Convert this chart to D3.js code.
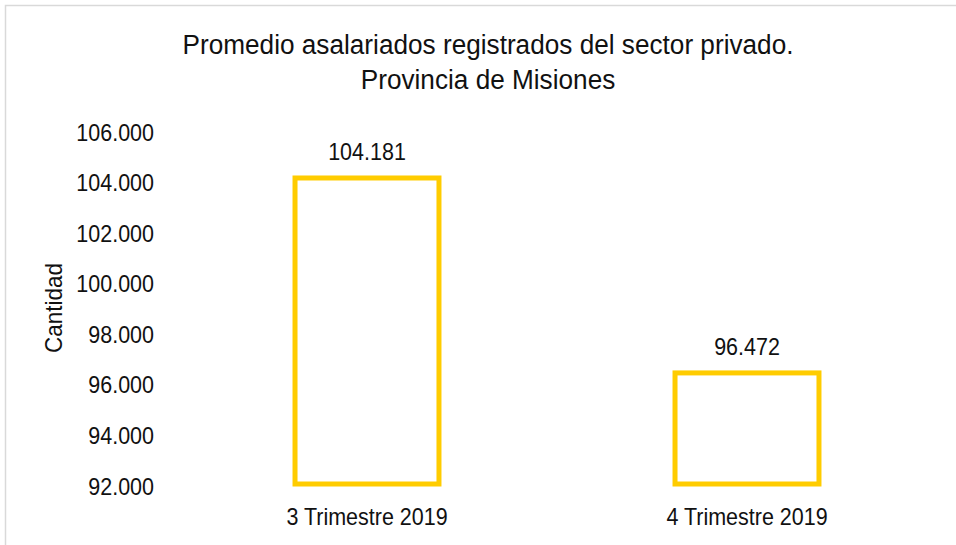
<!DOCTYPE html>
<html>
<head>
<meta charset="utf-8">
<script src="https://cdn.jsdelivr.net/npm/d3@7"></script>
<style>
  html, body { margin: 0; padding: 0; background: #fff; }
  svg { display: block; }
  text { font-family: "Liberation Sans", Arial, sans-serif; fill: #111; }
</style>
</head>
<body>
<svg id="chart" width="956" height="545"></svg>
<script>
const titleLines = ["Promedio asalariados registrados del sector privado.", "Provincia de Misiones"];
const categories = ["3 Trimestre 2019", "4 Trimestre 2019"];
const values = [104181, 96472];
const yTicks = [92000, 94000, 96000, 98000, 100000, 102000, 104000, 106000];
const yLabel = "Cantidad";

const NARROW = 0.935; // horizontal compression to emulate a condensed face
const svg = d3.select("#chart");
const fmt = v => d3.format(",")(v).replace(/,/g, ".");

svg.append("rect").attr("x", 5.5).attr("y", 5.5).attr("width", 980).attr("height", 600)
  .attr("fill", "#fff").attr("stroke", "#d9d9d9").attr("stroke-width", 1.5);

const x = d3.scaleBand().domain(categories).range([177, 937]).paddingInner(0.608).paddingOuter(0.304);
const y = d3.scaleLinear().domain([92000, 106000]).range([486, 132]);

// title
const titleG = svg.append("g").attr("transform", "translate(488,0)");
titleLines.forEach((t, i) => {
  titleG.append("text").attr("x", 0).attr("y", 54.5 + i * 35)
    .attr("text-anchor", "middle").style("font-size", "28px")
    .attr("transform", `scale(${NARROW},1)`).text(t);
});

// y axis
const yAxis = d3.axisLeft(y).tickValues(yTicks).tickFormat(fmt).tickSize(0).tickPadding(0);
const gy = svg.append("g").attr("transform", "translate(154,0)").call(yAxis);
gy.select(".domain").remove();
gy.selectAll("text").style("font-size", "23px").attr("fill", "#111").attr("dy", "0.35em")
  .attr("transform", `scale(${NARROW},1)`);

// y label
svg.append("g").attr("transform", "translate(62,308) rotate(-90)")
  .append("text").attr("text-anchor", "middle").style("font-size", "24px")
  .attr("transform", `scale(${NARROW},1)`).text(yLabel);

// x axis
const xAxis = d3.axisBottom(x).tickSize(0).tickPadding(0);
const gx = svg.append("g").attr("transform", "translate(0,508.5)").call(xAxis);
gx.select(".domain").remove();
gx.selectAll("text").style("font-size", "23px").attr("fill", "#111").attr("dy", "0.71em")
  .attr("transform", `scale(${NARROW},1)`);

// bars
const data = categories.map((c, i) => ({c, v: values[i]}));
svg.append("g").selectAll("rect").data(data).join("rect")
  .attr("x", d => x(d.c) + 2.5)
  .attr("width", x.bandwidth() - 5)
  .attr("y", d => y(d.v))
  .attr("height", d => y(92000) - 2 - y(d.v))
  .attr("fill", "#fff")
  .attr("stroke", "#FFCC00")
  .attr("stroke-width", 5);

// value labels
svg.append("g").selectAll("g").data(data).join("g")
  .attr("transform", d => `translate(${x(d.c) + x.bandwidth() / 2},${y(d.v) - 17.5})`)
  .append("text")
  .attr("text-anchor", "middle")
  .attr("transform", `scale(${NARROW},1)`)
  .style("font-size", "23px")
  .text(d => fmt(d.v));
</script>
</body>
</html>
